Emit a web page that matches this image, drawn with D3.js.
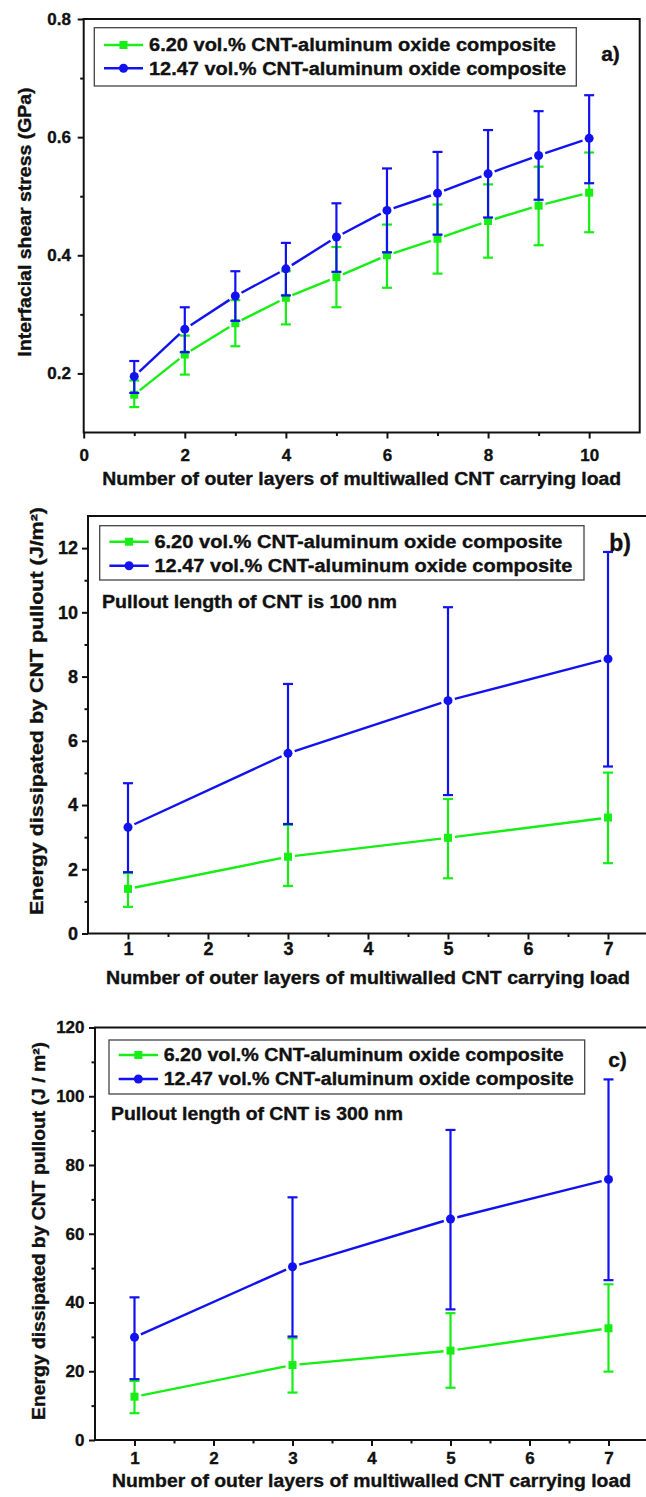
<!DOCTYPE html>
<html>
<head>
<meta charset="utf-8">
<script src="https://cdn.jsdelivr.net/npm/d3@7"></script>
<style>
  body { margin: 0; background: #fff; }
  svg text { font-family: "Liberation Sans", Arial, sans-serif; font-weight: bold; fill: #111; stroke: #111; stroke-width: 0.35px; }
</style>
</head>
<body>
<div id="chart"></div>
<script>
// ---- data ----
const seriesNames = ["6.20 vol.% CNT-aluminum oxide composite", "12.47 vol.% CNT-aluminum oxide composite"];

// a) interfacial shear stress (GPa)
const layersA = [1, 2, 3, 4, 5, 6, 7, 8, 9, 10];
const greenA   = [0.164, 0.232, 0.285, 0.328, 0.363, 0.400, 0.428, 0.458, 0.484, 0.506];
const greenAHi = [0.188, 0.264, 0.324, 0.373, 0.414, 0.452, 0.486, 0.520, 0.550, 0.574];
const greenALo = [0.143, 0.198, 0.246, 0.283, 0.312, 0.345, 0.369, 0.396, 0.417, 0.439];
const blueA    = [0.195, 0.275, 0.331, 0.377, 0.431, 0.476, 0.505, 0.538, 0.569, 0.598];
const blueAHi  = [0.221, 0.312, 0.373, 0.421, 0.488, 0.547, 0.575, 0.612, 0.644, 0.671];
const blueALo  = [0.167, 0.236, 0.289, 0.332, 0.372, 0.405, 0.435, 0.464, 0.494, 0.522];

// b) energy, pullout length 100 nm (J/m2)
const layersB = [1, 3, 5, 7];
const greenB   = [1.39, 2.39, 2.98, 3.61];
const greenBHi = [1.88, 3.38, 4.19, 5.01];
const greenBLo = [0.83, 1.48, 1.72, 2.19];
const blueB    = [3.31, 5.61, 7.25, 8.55];
const blueBHi  = [4.68, 7.77, 10.16, 11.88];
const blueBLo  = [1.91, 3.41, 4.31, 5.20];

// c) energy, pullout length 300 nm (J/m2)
const layersC = [1, 3, 5, 7];
const greenC   = [12.6, 21.8, 26.0, 32.5];
const greenCHi = [17.2, 29.6, 36.9, 45.3];
const greenCLo = [7.8, 13.8, 15.2, 19.9];
const blueC    = [29.9, 50.4, 64.3, 75.8];
const blueCHi  = [41.5, 70.6, 90.2, 104.9];
const blueCLo  = [17.7, 30.1, 38.0, 46.5];

// tick values
const xTicksA = [0, 2, 4, 6, 8, 10], xMinorA = [1, 3, 5, 7, 9];
const yTicksA = [0.2, 0.4, 0.6, 0.8], yMinorA = [0.3, 0.5, 0.7];
const xTicksBC = [1, 2, 3, 4, 5, 6, 7], xMinorBC = [1.5, 2.5, 3.5, 4.5, 5.5, 6.5];
const yTicksB = [0, 2, 4, 6, 8, 10, 12], yMinorB = [1, 3, 5, 7, 9, 11];
const yTicksC = [0, 20, 40, 60, 80, 100, 120], yMinorC = [10, 30, 50, 70, 90, 110];

const GREEN = "#16ee16", BLUE = "#1212f0";

const svg = d3.select("#chart").append("svg")
    .attr("width", 646)
    .attr("height", 1497);

const panels = [
    {
        left: 83.7, right: 639.7, bottom: 432.5, top: 19,
        xDomain: [0, 11], yDomain: [0.1, 0.8],
        xTicks: xTicksA, xMinor: xMinorA, yTicks: yTicksA, yMinor: yMinorA, yFmt: d3.format(".1f"),
        xPad: 10.5, yPad: 6.7, tickFont: 17,
        xs: layersA,
        series: [
            { color: GREEN, shape: "square", v: greenA, hi: greenAHi, lo: greenALo },
            { color: BLUE, shape: "circle", v: blueA, hi: blueAHi, lo: blueALo }
        ],
        legend: { x0: 94.3, y0: 27.7, x1: 576.3, y1: 86, rows: [45, 68.3], lx0: 104, lx1: 143, tx: 149, lens: [407, 417] },
        letter: { text: "a)", x: 610.5, y: 53, size: 21 },
        note: null,
        xTitle: { y: 478, len: 519 },
        yTitle: { x: 24, y: 222, len: 269, text: "Interfacial shear stress (GPa)" }
    },
    {
        left: 88, right: 648, bottom: 933.5, top: 516,
        xDomain: [0.5, 7.5], yDomain: [0, 13],
        xTicks: xTicksBC, xMinor: xMinorBC, yTicks: yTicksB, yMinor: yMinorB, yFmt: d3.format("d"),
        xPad: 3.2, yPad: 4, tickFont: 18,
        xs: layersB,
        series: [
            { color: GREEN, shape: "square", v: greenB, hi: greenBHi, lo: greenBLo },
            { color: BLUE, shape: "circle", v: blueB, hi: blueBHi, lo: blueBLo }
        ],
        legend: { x0: 99.7, y0: 525.7, x1: 584, y1: 580, rows: [541.7, 565.7], lx0: 109.4, lx1: 148.7, tx: 154.4, lens: [408, 418] },
        letter: { text: "b)", x: 620, y: 543, size: 23 },
        note: { text: "Pullout length of CNT is 100 nm", x: 102, y: 601.7, len: 295 },
        xTitle: { y: 977, len: 524 },
        yTitle: { x: 36, y: 711, len: 408, text: "Energy dissipated by CNT pullout (J/m\u00b2)" }
    },
    {
        left: 95, right: 648, bottom: 1440, top: 1027.5,
        xDomain: [0.5, 7.5], yDomain: [0, 120],
        xTicks: xTicksBC, xMinor: xMinorBC, yTicks: yTicksC, yMinor: yMinorC, yFmt: d3.format("d"),
        xPad: 6, yPad: 4.5, tickFont: 17,
        xs: layersC,
        series: [
            { color: GREEN, shape: "square", v: greenC, hi: greenCHi, lo: greenCLo },
            { color: BLUE, shape: "circle", v: blueC, hi: blueCHi, lo: blueCLo }
        ],
        legend: { x0: 109, y0: 1040, x1: 584.7, y1: 1094, rows: [1055, 1079], lx0: 118.7, lx1: 158, tx: 163.7, lens: [400, 410] },
        letter: { text: "c)", x: 617.5, y: 1059.3, size: 21 },
        note: { text: "Pullout length of CNT is 300 nm", x: 111, y: 1114, len: 292 },
        xTitle: { y: 1480.5, len: 519 },
        yTitle: { x: 38, y: 1231, len: 378, text: "Energy dissipated by CNT pullout (J / m\u00b2)" }
    }
];

function drawMarker(g, shape, color, cx, cy) {
    if (shape === "square") {
        g.append("rect")
            .attr("x", cx - 4).attr("y", cy - 4)
            .attr("width", 8).attr("height", 8)
            .attr("fill", color);
    } else {
        g.append("circle")
            .attr("cx", cx).attr("cy", cy).attr("r", 4.5)
            .attr("fill", color);
    }
}

panels.forEach(p => {
    const x = d3.scaleLinear().domain(p.xDomain).range([p.left, p.right]);
    const y = d3.scaleLinear().domain(p.yDomain).range([p.bottom, p.top]);
    const g = svg.append("g");

    // frame
    g.append("rect")
        .attr("x", p.left).attr("y", p.top)
        .attr("width", p.right - p.left).attr("height", p.bottom - p.top)
        .attr("fill", "none").attr("stroke", "#111").attr("stroke-width", 2);

    // major + minor ticks
    const xAxis = g.append("g").attr("transform", `translate(0,${p.bottom})`)
        .call(d3.axisBottom(x).tickValues(p.xTicks).tickSize(6).tickSizeOuter(0).tickPadding(p.xPad).tickFormat(d3.format("d")));
    const xMin = g.append("g").attr("transform", `translate(0,${p.bottom})`)
        .call(d3.axisBottom(x).tickValues(p.xMinor).tickSize(3.5).tickSizeOuter(0).tickFormat(""));
    const yAxis = g.append("g").attr("transform", `translate(${p.left},0)`)
        .call(d3.axisLeft(y).tickValues(p.yTicks).tickSize(6).tickSizeOuter(0).tickPadding(p.yPad).tickFormat(p.yFmt));
    const yMin = g.append("g").attr("transform", `translate(${p.left},0)`)
        .call(d3.axisLeft(y).tickValues(p.yMinor).tickSize(3.5).tickSizeOuter(0).tickFormat(""));
    [xAxis, xMin, yAxis, yMin].forEach(a => {
        a.select(".domain").remove();
        a.selectAll("line").attr("stroke", "#111").attr("stroke-width", 2);
        a.selectAll("text").attr("font-size", p.tickFont).attr("font-family", null).attr("fill", "#111");
    });

    // series: gapped lines, error bars, markers
    p.series.forEach(s => {
        const pts = p.xs.map((d, i) => [x(d), y(s.v[i])]);
        const gap = 7;
        d3.pairs(pts).forEach(([a, b]) => {
            const dx = b[0] - a[0], dy = b[1] - a[1], L = Math.hypot(dx, dy);
            const ux = dx / L, uy = dy / L;
            g.append("line")
                .attr("x1", a[0] + ux * gap).attr("y1", a[1] + uy * gap)
                .attr("x2", b[0] - ux * gap).attr("y2", b[1] - uy * gap)
                .attr("stroke", s.color).attr("stroke-width", 2.4);
        });
        p.xs.forEach((d, i) => {
            const cx = x(d), yh = y(s.hi[i]), yl = y(s.lo[i]);
            g.append("line").attr("x1", cx).attr("x2", cx).attr("y1", yh).attr("y2", yl)
                .attr("stroke", s.color).attr("stroke-width", 2.2);
            [yh, yl].forEach(yy => {
                g.append("line").attr("x1", cx - 5).attr("x2", cx + 5).attr("y1", yy).attr("y2", yy)
                    .attr("stroke", s.color).attr("stroke-width", 2.2);
            });
        });
        pts.forEach(pt => drawMarker(g, s.shape, s.color, pt[0], pt[1]));
    });

    // legend
    const L = p.legend;
    g.append("rect")
        .attr("x", L.x0).attr("y", L.y0)
        .attr("width", L.x1 - L.x0).attr("height", L.y1 - L.y0)
        .attr("fill", "#fff").attr("stroke", "#444").attr("stroke-width", 1.3);
    p.series.forEach((s, i) => {
        const ry = L.rows[i];
        g.append("line").attr("x1", L.lx0).attr("x2", L.lx1).attr("y1", ry).attr("y2", ry)
            .attr("stroke", s.color).attr("stroke-width", 2.4);
        drawMarker(g, s.shape, s.color, (L.lx0 + L.lx1) / 2, ry);
        g.append("text")
            .attr("x", L.tx).attr("y", ry + 6.3)
            .attr("font-size", 18)
            .attr("textLength", L.lens[i]).attr("lengthAdjust", "spacingAndGlyphs")
            .text(seriesNames[i]);
    });

    // panel letter
    g.append("text")
        .attr("x", p.letter.x).attr("y", p.letter.y + p.letter.size * 0.36)
        .attr("text-anchor", "middle")
        .attr("font-size", p.letter.size)
        .text(p.letter.text);

    // annotation
    if (p.note) {
        g.append("text")
            .attr("x", p.note.x).attr("y", p.note.y + 6.3)
            .attr("font-size", 18)
            .attr("textLength", p.note.len).attr("lengthAdjust", "spacingAndGlyphs")
            .text(p.note.text);
    }

    // axis titles
    g.append("text")
        .attr("x", (p.left + p.right) / 2).attr("y", p.xTitle.y + 6.5)
        .attr("text-anchor", "middle")
        .attr("font-size", 18)
        .attr("textLength", p.xTitle.len).attr("lengthAdjust", "spacingAndGlyphs")
        .text("Number of outer layers of multiwalled CNT carrying load");

    g.append("text")
        .attr("transform", `translate(${p.yTitle.x},${p.yTitle.y}) rotate(-90)`)
        .attr("x", 0).attr("y", 6.5)
        .attr("text-anchor", "middle")
        .attr("font-size", 18)
        .attr("textLength", p.yTitle.len).attr("lengthAdjust", "spacingAndGlyphs")
        .text(p.yTitle.text);
});
</script>
</body>
</html>
